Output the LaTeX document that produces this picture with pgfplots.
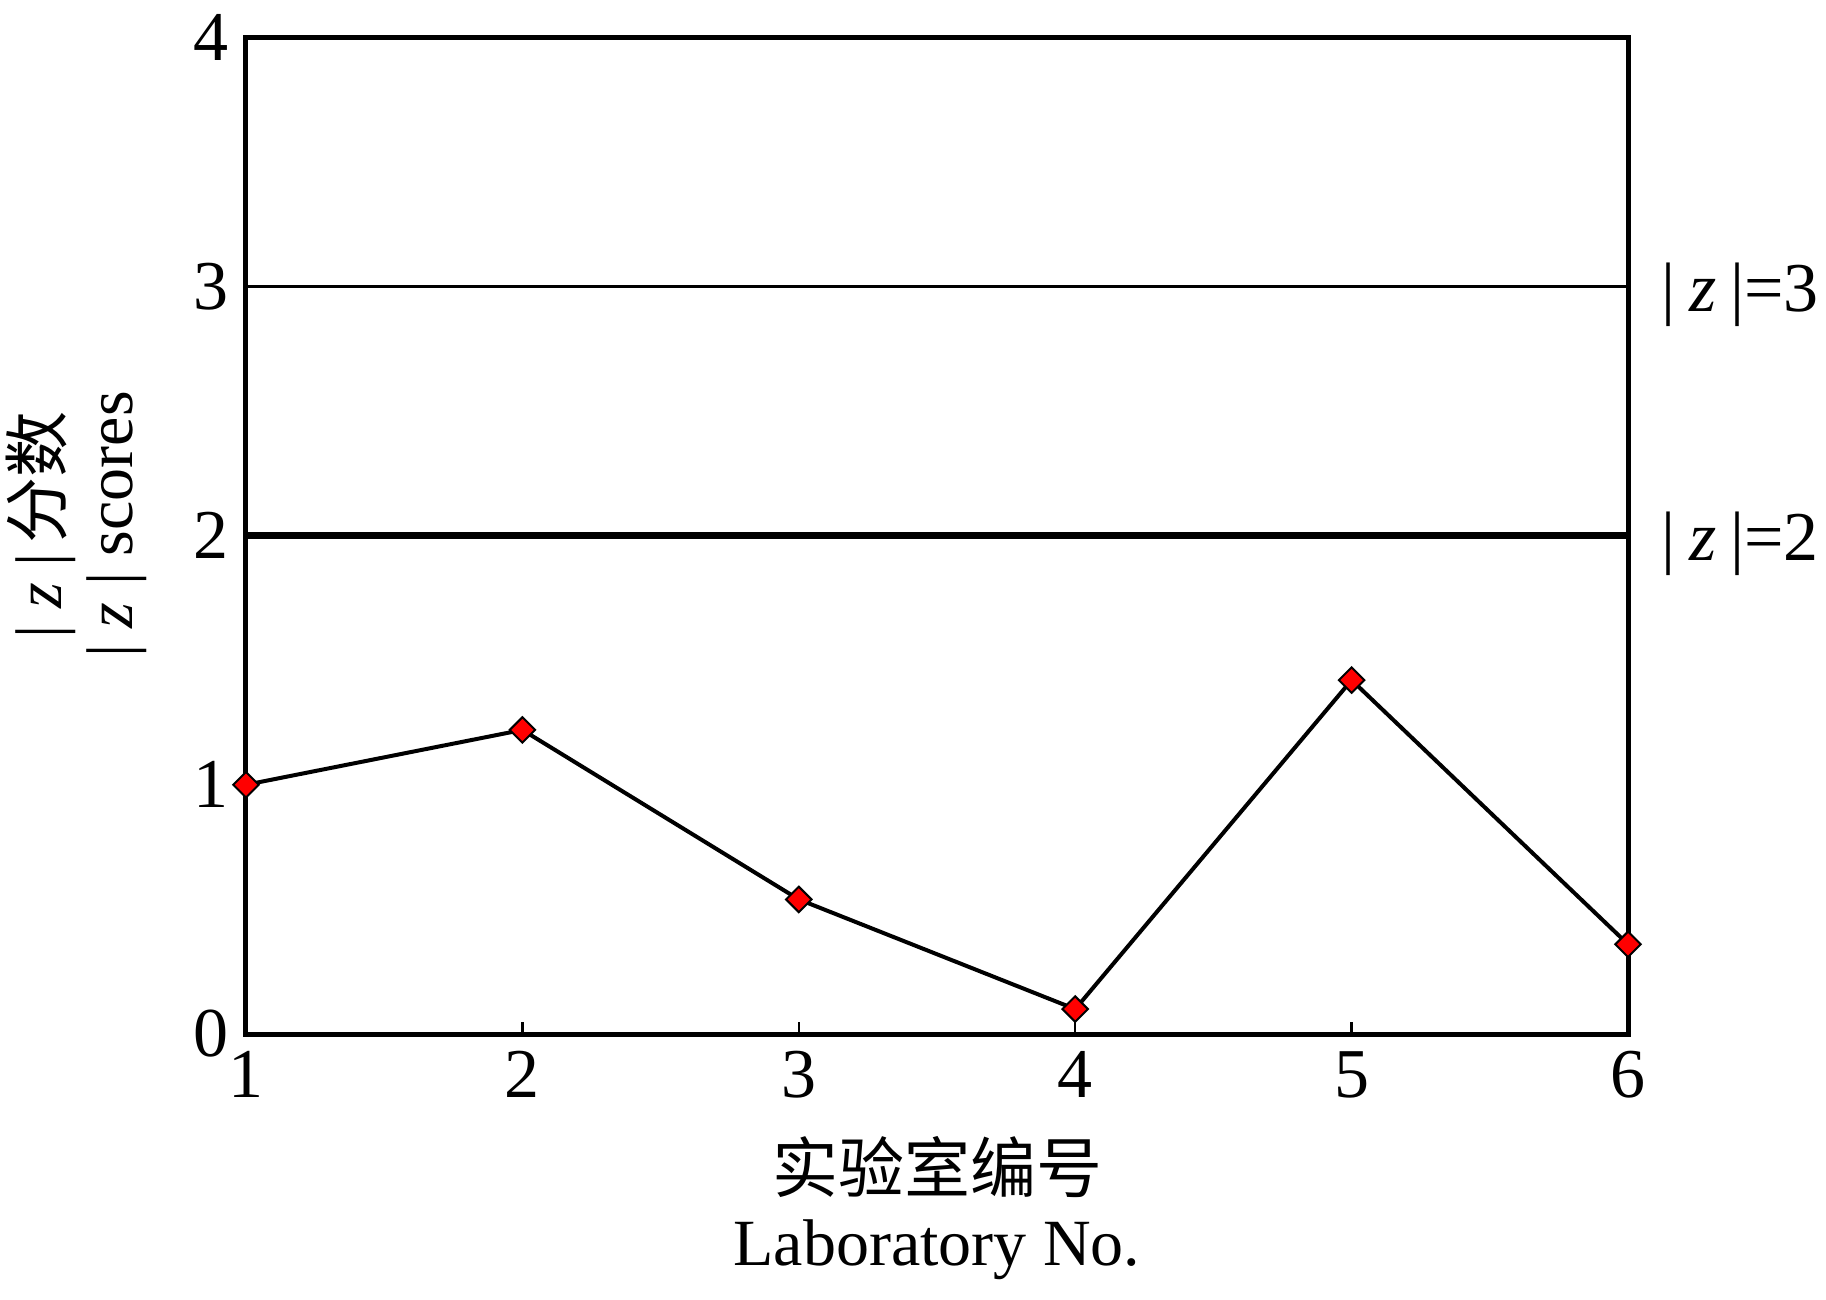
\documentclass[border=0pt]{standalone}
\usepackage{pgfplots}
\pgfplotsset{compat=1.18}
\usepackage{fontspec}
\setmainfont{Liberation Serif}
\newfontfamily\cjk{Noto Sans CJK SC}
\usetikzlibrary{calc}

\begin{document}
\begin{tikzpicture}
\begin{axis}[
  width=276.4pt, height=199.4pt, scale only axis,
  xmin=1, xmax=6, ymin=0, ymax=4,
  xtick={1,2,3,4,5,6}, ytick={0,1,2,3,4},
  tick align=inside,
  xtick pos=lower,
  major tick length=2.5pt,
  axis line style={line width=1.0pt},
  tick style={line width=0.5pt, black},
  ytick style={draw=none},
  /pgf/number format/assume math mode=true,
  ticklabel style={font=\fontsize{14}{16}\selectfont},
  xticklabel style={inner sep=3.3pt},
  yticklabel style={inner sep=3.3pt},
  clip=false,
  xlabel={{\cjk 实验室编号}\\Laboratory No.},
  xlabel style={at={(axis description cs:0.5,0)}, anchor=north, yshift=-17pt, align=center, font=\fontsize{13.2}{14.6}\selectfont},
  ylabel={| \textit{z} |\hspace{0.15em}{\cjk 分数}\\| \textit{z} | scores},
  ylabel style={at={(axis description cs:-0.059,0.511)}, anchor=south, align=center, font=\fontsize{13.2}{14.2}\selectfont},
]
\addplot[black, line width=0.5pt] coordinates {(1,3) (6,3)};
\addplot[black, line width=1.5pt] coordinates {(1,2) (6,2)};
\addplot[black, line width=0.8pt, mark=square*, mark size=1.8pt,
  mark options={fill=red, draw=black, line width=0.4pt, rotate=45}]
  coordinates {(1,1.00) (2,1.22) (3,0.54) (4,0.10) (5,1.42) (6,0.36)};
\node[anchor=west, inner sep=0pt, font=\fontsize{14}{16}\selectfont, xshift=6.4pt, yshift=-1.6pt] at (axis cs:6,3) {|\hspace{0.2em}\textit{z}\hspace{0.2em}|=3};
\node[anchor=west, inner sep=0pt, font=\fontsize{14}{16}\selectfont, xshift=6.4pt, yshift=-1.6pt] at (axis cs:6,2) {|\hspace{0.2em}\textit{z}\hspace{0.2em}|=2};
\end{axis}
\pgfresetboundingbox
\path ($(current axis.south west)+(-49.2pt,-53pt)$) rectangle ($(current axis.north east)+(39.6pt,7.4pt)$);
\end{tikzpicture}
\end{document}
